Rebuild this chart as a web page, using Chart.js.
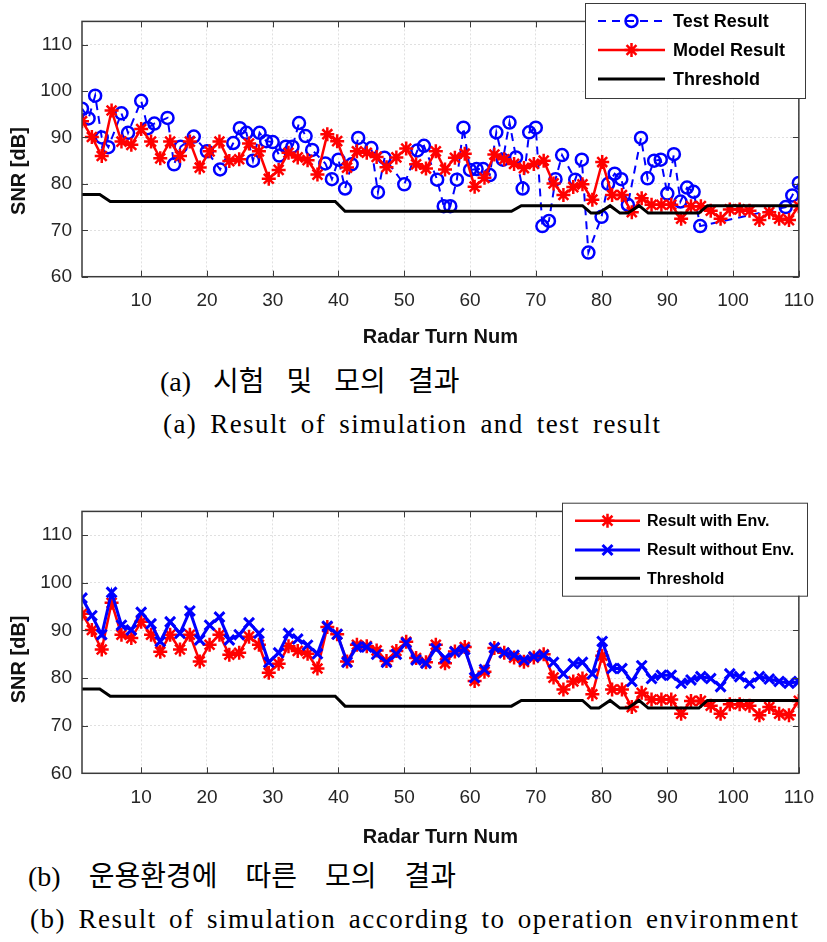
<!DOCTYPE html>
<html><head><meta charset="utf-8">
<script src="https://cdn.jsdelivr.net/npm/chart.js@4.4.1/dist/chart.umd.min.js"></script>
<style>
html,body{margin:0;padding:0;background:#fff;width:827px;height:942px;overflow:hidden;position:relative;}
canvas{position:absolute;left:0;}
.cap{position:absolute;white-space:nowrap;color:#000;font-family:'Liberation Serif','Noto Sans CJK KR',serif;}
</style></head><body>
<canvas id="c1" width="827" height="350" style="top:0px"></canvas>
<canvas id="c2" width="827" height="360" style="top:490px"></canvas>
<div class="cap" style="left:160px;top:365px;font-size:28px;line-height:34px;word-spacing:15px;">(a) 시험 및 모의 결과</div>
<div class="cap" style="left:163px;top:407px;font-size:27px;line-height:34px;word-spacing:5px;letter-spacing:1.4px;">(a) Result of simulation and test result</div>
<div class="cap" style="left:28px;top:860px;font-size:28px;line-height:34px;word-spacing:21px;">(b) 운용환경에 따른 모의 결과</div>
<div class="cap" style="left:30px;top:902px;font-size:27px;line-height:34px;word-spacing:4px;letter-spacing:1.55px;">(b) Result of simulation according to operation environment</div>
<script>
// ---------- data ----------
const xTicks = [10,20,30,40,50,60,70,80,90,100,110];
const yTicks = [60,70,80,90,100,110];

const modelTurns = [1.0,2.5,4.0,5.5,7.0,8.5,10.0,11.5,12.9,14.4,15.9,17.4,18.9,20.4,21.9,23.4,24.9,26.4,27.9,29.4,
  30.9,32.4,33.8,35.3,36.8,38.3,39.8,41.3,42.8,44.3,45.8,47.3,48.8,50.3,51.8,53.3,54.8,56.2,57.7,59.2,
  60.7,62.2,63.7,65.2,66.7,68.2,69.7,71.2,72.7,74.2,75.7,77.1,78.6,80.1,81.6,83.1,84.6,86.1,87.6,89.1,
  90.6,92.1,93.6,95.1,96.6,98.1,99.5,101.0,102.5,104.0,105.5,107.0,108.5,110.0];

const withEnv = [93.5,90.1,86.0,95.8,89.1,88.4,91.8,89.1,85.5,89.1,
  86.0,89.1,83.5,87.0,89.1,84.9,85.3,88.7,87.0,81.1,
  83.0,86.7,85.7,85.1,82.0,90.7,89.2,83.5,87.0,86.7,
  85.8,83.6,85.7,87.6,84.2,83.3,87.0,83.1,85.6,86.5,
  79.4,81.3,86.3,85.3,84.3,83.4,84.3,85.0,80.1,77.6,
  79.3,79.9,76.6,84.7,77.6,77.6,73.9,76.9,75.5,75.5,
  75.5,72.5,75.2,75.2,74.2,72.5,74.5,74.5,74.2,72.2,
  73.9,72.5,72.2,75.2];

const withoutEnv = [96.8,93.1,89.1,98.0,91.1,90.1,93.8,91.4,87.7,91.8,
  89.4,94.1,88.0,91.1,92.8,88.0,89.1,91.6,89.4,83.3,
  85.3,89.4,88.2,86.9,85.1,90.9,89.2,83.3,86.5,86.5,
  85.0,83.3,85.0,87.4,83.8,83.1,86.2,84.2,85.5,86.0,
  80.1,81.8,86.4,85.3,84.8,83.8,84.5,84.8,83.3,80.9,
  83.0,83.3,80.9,87.7,82.0,82.0,79.3,82.6,79.9,80.6,
  80.6,78.9,79.6,80.3,79.9,78.2,80.9,80.3,78.9,80.3,
  79.8,79.3,78.9,79.3];

const testTurns = [1,2,3,4,5,7,8,10,11,12,14,15,16,18,20,22,24,25,26,27,28,29,30,31,32,33,34,35,36,38,39,40,41,42,43,45,46,47,50,52,53,55,56,57,58,59,60,61,62,63,64,65,66,67,68,69,70,71,72,73,74,76,77,78,80,81,82,83,84,86,87,88,89,90,91,92,93,94,95,108,109,110];
const testValues = [96.2,94.1,99.0,90.0,87.9,95.2,91.0,97.9,92.0,93.0,94.2,84.2,88.0,90.2,87.0,83.1,88.8,92.0,91.0,85.0,91.0,89.2,89.0,86.1,88.0,88.0,93.1,90.3,87.3,84.4,81.0,85.2,79.0,84.2,89.9,87.7,78.2,85.6,79.9,87.2,88.2,80.9,75.2,75.2,80.9,92.1,83.0,83.2,83.2,81.9,91.1,85.2,93.2,85.7,79.0,91.1,92.1,70.9,72.0,81.0,86.2,80.9,85.2,65.2,72.9,80.0,82.2,81.0,75.5,89.9,81.2,85.0,85.2,77.9,86.4,76.2,79.2,78.3,70.9,75.0,77.5,80.2];

const thrTurns = [1,3.7,5.3,39.5,41,66.3,67.8,77.1,78.4,79.6,81.3,82.8,84,85.7,87.1,94.8,96.1,110];
const thrValues = [77.7,77.7,76.2,76.2,74.1,74.1,75.3,75.3,73.7,73.7,75.3,73.7,73.7,75.3,73.7,73.7,75.3,75.3];

const pts = (xs, ys) => xs.map((x, i) => ({x: x, y: ys[i]}));

const FONT = "'Liberation Sans', Arial, sans-serif";

// ---------- plugins ----------
const frame = {
  id: 'frame',
  afterDraw(chart) {
    const {ctx, chartArea: a, scales} = chart;
    ctx.save();
    ctx.strokeStyle = '#3a3a3a';
    ctx.lineWidth = 1.5;
    ctx.setLineDash([]);
    ctx.strokeRect(a.left, a.top, a.right - a.left, a.bottom - a.top);
    ctx.lineWidth = 1;
    const tl = 6;
    ctx.beginPath();
    scales.x.ticks.forEach(t => {
      const px = Math.round(scales.x.getPixelForValue(t.value)) + 0.5;
      ctx.moveTo(px, a.bottom); ctx.lineTo(px, a.bottom - tl);
      ctx.moveTo(px, a.top); ctx.lineTo(px, a.top + tl);
    });
    scales.y.ticks.forEach(t => {
      const py = Math.round(scales.y.getPixelForValue(t.value)) + 0.5;
      ctx.moveTo(a.left, py); ctx.lineTo(a.left + tl, py);
      ctx.moveTo(a.right, py); ctx.lineTo(a.right - tl, py);
    });
    ctx.stroke();
    // y axis title
    const T = chart.options.plugins.yTitle;
    if (T) {
      ctx.save();
      ctx.translate(T.x, (a.top + a.bottom) / 2 + T.dy);
      ctx.rotate(-Math.PI / 2);
      ctx.fillStyle = '#111';
      ctx.font = "bold 20px " + FONT;
      ctx.textAlign = 'center';
      ctx.textBaseline = 'middle';
      ctx.fillText(T.text, 0, 0);
      ctx.restore();
    }
    // legend box
    const L = chart.options.plugins.boxLegend;
    if (L) {
      ctx.fillStyle = '#fff';
      ctx.fillRect(L.x, L.y, L.w, L.h);
      ctx.strokeStyle = '#3a3a3a';
      ctx.lineWidth = 1;
      ctx.strokeRect(L.x + 0.5, L.y + 0.5, L.w, L.h);
      chart.data.datasets.forEach((ds, i) => {
        const y = L.rows[i];
        ctx.strokeStyle = ds.borderColor;
        ctx.lineWidth = ds.borderWidth;
        ctx.setLineDash(ds.borderDash || []);
        ctx.beginPath();
        ctx.moveTo(L.x1, y); ctx.lineTo(L.x2, y);
        ctx.stroke();
        ctx.setLineDash([]);
        if (ds.pointRadius > 0) {
          ctx.strokeStyle = ds.pointBorderColor || ds.borderColor;
          ctx.fillStyle = 'rgba(0,0,0,0)';
          ctx.lineWidth = ds.pointBorderWidth;
          Chart.helpers.drawPoint(ctx, {pointStyle: ds.pointStyle, radius: ds.pointRadius, borderWidth: ds.pointBorderWidth, rotation: 0}, (L.x1 + L.x2) / 2, y);
        }
        ctx.fillStyle = '#000';
        ctx.font = L.font;
        ctx.textBaseline = 'middle';
        ctx.textAlign = 'left';
        ctx.fillText(ds.label, L.tx, y + 1);
      });
    }
    ctx.restore();
  }
};

function makeOptions(xAxisH, padTop, legend, titleDy) {
  return {
    responsive: false,
    animation: false,
    devicePixelRatio: 1,
    layout: {padding: {top: padTop, right: 22, left: 0, bottom: 0}},
    plugins: {legend: {display: false}, tooltip: {enabled: false}, boxLegend: legend,
              yTitle: {text: 'SNR [dB]', x: 19, dy: titleDy}},
    scales: {
      x: {
        type: 'linear', min: 1, max: 110,
        afterBuildTicks: a => { a.ticks = xTicks.map(v => ({value: v})); },
        afterFit: a => { a.height = xAxisH; },
        ticks: {font: {family: FONT, size: 19}, color: '#262626', padding: 13, maxRotation: 0, autoSkip: false},
        grid: {color: '#e0e0e0', lineWidth: 1, drawTicks: false},
        border: {display: false, dash: [2, 2]},
        title: {display: true, text: 'Radar Turn Num', color: '#111', font: {family: FONT, size: 20, weight: 'bold'}, padding: {top: 0, bottom: 1}}
      },
      y: {
        type: 'linear', min: 60, max: 115,
        afterBuildTicks: a => { a.ticks = yTicks.map(v => ({value: v})); },
        afterFit: a => { a.width = 82; },
        ticks: {font: {family: FONT, size: 19}, color: '#262626', padding: 10},
        grid: {color: '#e0e0e0', lineWidth: 1, drawTicks: false},
        border: {display: false, dash: [2, 2]},
        title: {display: false}
      }
    }
  };
}

new Chart(document.getElementById('c1'), {
  type: 'line',
  data: {datasets: [
    {label: 'Test Result', data: pts(testTurns, testValues), borderColor: '#0000ff', borderWidth: 2, borderDash: [8, 6],
     pointStyle: 'circle', pointRadius: 6, pointBorderWidth: 2.5, pointBackgroundColor: 'rgba(0,0,0,0)', pointBorderColor: '#0000ff', order: 3, tension: 0},
    {label: 'Model Result', data: pts(modelTurns, withEnv), borderColor: '#ff0000', borderWidth: 2.5,
     pointStyle: 'star', pointRadius: 7, pointBorderWidth: 2.5, pointBorderColor: '#ff0000', pointBackgroundColor: '#ff0000', order: 2, tension: 0},
    {label: 'Threshold', data: pts(thrTurns, thrValues), borderColor: '#000', borderWidth: 3, pointRadius: 0, order: 1, tension: 0}
  ]},
  options: makeOptions(73.3, 3, {x: 585, y: 3, w: 220, h: 95, rows: [21, 50, 79], x1: 598, x2: 665, tx: 673, font: "bold 18px " + FONT}, 22),
  plugins: [frame]
});

new Chart(document.getElementById('c2'), {
  type: 'line',
  data: {datasets: [
    {label: 'Result with Env.', data: pts(modelTurns, withEnv), borderColor: '#ff0000', borderWidth: 2.5,
     pointStyle: 'star', pointRadius: 7, pointBorderWidth: 2.5, pointBorderColor: '#ff0000', pointBackgroundColor: '#ff0000', order: 3, tension: 0},
    {label: 'Result without Env.', data: pts(modelTurns, withoutEnv), borderColor: '#0000ff', borderWidth: 3,
     pointStyle: 'crossRot', pointRadius: 7, pointBorderWidth: 3, pointBorderColor: '#0000ff', pointBackgroundColor: '#0000ff', order: 2, tension: 0},
    {label: 'Threshold', data: pts(thrTurns, thrValues), borderColor: '#000', borderWidth: 3, pointRadius: 0, order: 1, tension: 0}
  ]},
  options: makeOptions(76.7, 12.7, {x: 562, y: 12.7, w: 245, h: 93, rows: [30.7, 60, 88.3], x1: 575, x2: 640, tx: 647, font: "bold 16px " + FONT}, 17),
  plugins: [frame]
});
</script>
</body></html>
